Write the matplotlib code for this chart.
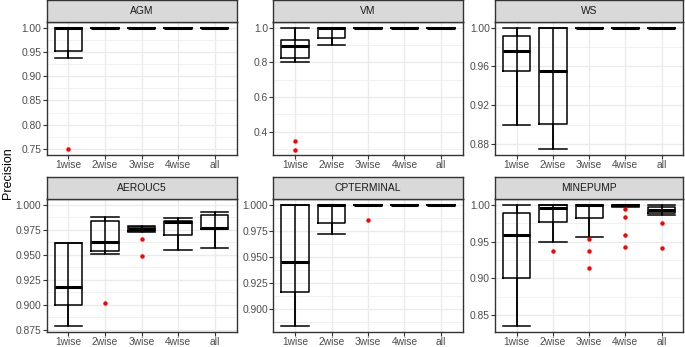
import matplotlib
matplotlib.use('Agg')
import matplotlib.pyplot as plt
from matplotlib.ticker import MultipleLocator, AutoMinorLocator, FormatStrFormatter

plt.rcParams['font.family'] = ['Liberation Sans', 'DejaVu Sans']

# categories on the x axis
groups = ['1wise', '2wise', '3wise', '4wise', 'all']

# one list of (whisker low, q1, median, q3, whisker high) per group
agm = [(0.937, 0.952, 1.0, 1.0, 1.0), (1, 1, 1, 1, 1), (1, 1, 1, 1, 1), (1, 1, 1, 1, 1), (1, 1, 1, 1, 1)]
agm_out = [[0.75], [], [], [], []]

vm = [(0.80, 0.825, 0.896, 0.931, 1.0), (0.90, 0.938, 1.0, 1.0, 1.0), (1, 1, 1, 1, 1), (1, 1, 1, 1, 1), (1, 1, 1, 1, 1)]
vm_out = [[0.346, 0.294], [], [], [], []]

ws = [(0.900, 0.9548, 0.9762, 0.9918, 1.0), (0.8753, 0.9004, 0.9548, 1.0, 1.0), (1, 1, 1, 1, 1), (1, 1, 1, 1, 1), (1, 1, 1, 1, 1)]
ws_out = [[], [], [], [], []]

aerouc5 = [(0.8786, 0.900, 0.918, 0.962, 0.962), (0.951, 0.954, 0.963, 0.984, 0.9875),
           (0.973, 0.9735, 0.9755, 0.978, 0.979), (0.9546, 0.970, 0.983, 0.984, 0.987),
           (0.957, 0.9755, 0.977, 0.990, 0.9928)]
aerouc5_out = [[], [0.902], [0.9655, 0.9487], [], []]

cpterminal = [(0.8832, 0.916, 0.9446, 1.0, 1.0), (0.9722, 0.9826, 1.0, 1.0, 1.0), (1, 1, 1, 1, 1), (1, 1, 1, 1, 1), (1, 1, 1, 1, 1)]
cpterminal_out = [[], [], [0.9858], [], []]

minepump = [(0.835, 0.9007, 0.9596, 0.9897, 1.0), (0.9497, 0.9775, 0.9955, 1.0, 1.0),
            (0.9564, 0.982, 1.0, 1.0, 1.0), (0.998, 0.9987, 1.0, 1.0, 1.0),
            (0.986, 0.989, 0.993, 0.997, 1.0)]
minepump_out = [[], [0.937], [0.9537, 0.937, 0.9146], [0.994, 0.984, 0.9596, 0.9434], [0.975, 0.941]]

panels = [
    ('AGM', agm, agm_out, 0.05, '%.2f', (0.7375, 1.0125)),
    ('VM', vm, vm_out, 0.2, '%.1f', (0.265, 1.035)),
    ('WS', ws, ws_out, 0.04, '%.2f', (0.86875, 1.00625)),
    ('AEROUC5', aerouc5, aerouc5_out, 0.025, '%.3f', (0.8727, 1.0056)),
    ('CPTERMINAL', cpterminal, cpterminal_out, 0.025, '%.3f', (0.8774, 1.0058)),
    ('MINEPUMP', minepump, minepump_out, 0.05, '%.2f', (0.82675, 1.00825)),
]

W, H = 685, 347
fig = plt.figure(figsize=(W / 100, H / 100), dpi=100)

# pixel boxes (left, right) per column and (strip top, panel top, panel bottom) per row
cols = [(46.5, 236.7), (273.3, 462.7), (495, 683.3)]
rows = [(0, 21.5, 155), (177.3, 199, 332)]

grey20 = '#333333'
positions = list(range(1, len(groups) + 1))

for i, (name, data, outs, step, fmt, ylim) in enumerate(panels):
    x0, x1 = cols[i % 3]
    s0, p0, p1 = rows[i // 3]
    ax = fig.add_axes([x0 / W, 1 - p1 / H, (x1 - x0) / W, (p1 - p0) / H])
    st = fig.add_axes([x0 / W, 1 - p0 / H, (x1 - x0) / W, (p0 - s0) / H])

    stats = []
    for (lo, q1, med, q3, hi), fl in zip(data, outs):
        stats.append(dict(whislo=lo, q1=q1, med=med, q3=q3, whishi=hi, fliers=fl))

    lw = 1.1
    ax.bxp(stats, positions=positions, widths=0.75, capwidths=0.75,
           boxprops=dict(color='black', lw=lw),
           whiskerprops=dict(color='black', lw=lw),
           capprops=dict(color='black', lw=lw),
           medianprops=dict(color='black', lw=2.2, solid_capstyle='butt'),
           flierprops=dict(marker='o', markerfacecolor='red', markeredgecolor='none', markersize=3.2),
           zorder=3)
    # errorbar style whisker running through the box
    ax.vlines(positions, [d[0] for d in data], [d[4] for d in data], color='black', lw=lw, zorder=3)

    ax.set_xlim(0.4, len(groups) + 0.6)
    ax.set_ylim(*ylim)
    ax.set_xticks(positions)
    ax.set_xticklabels(groups)
    ax.yaxis.set_major_locator(MultipleLocator(step))
    ax.yaxis.set_major_formatter(FormatStrFormatter(fmt))
    ax.yaxis.set_minor_locator(AutoMinorLocator(2))
    ax.grid(True, which='major', color='#EBEBEB', lw=1.0, zorder=0)
    ax.grid(True, which='minor', axis='y', color='#EBEBEB', lw=0.5, zorder=0)
    ax.set_axisbelow(True)
    ax.tick_params(axis='both', which='major', labelsize=7.4, labelcolor='#4D4D4D',
                   color=grey20, length=2.8, width=0.8, pad=1.0)
    ax.tick_params(axis='y', which='minor', length=0)
    for sp in ax.spines.values():
        sp.set_color(grey20)
        sp.set_linewidth(1.0)

    st.set_facecolor('#D9D9D9')
    st.set_xticks([])
    st.set_yticks([])
    for sp in st.spines.values():
        sp.set_color(grey20)
        sp.set_linewidth(1.0)
    st.text(0.5, 0.5, name, ha='center', va='center', fontsize=7.4, color='#1A1A1A',
            transform=st.transAxes)

fig.text(8 / W, 1 - 173 / H, 'Precision', rotation=90, ha='center', va='center', fontsize=9)

fig.savefig('out.png', dpi=100)
